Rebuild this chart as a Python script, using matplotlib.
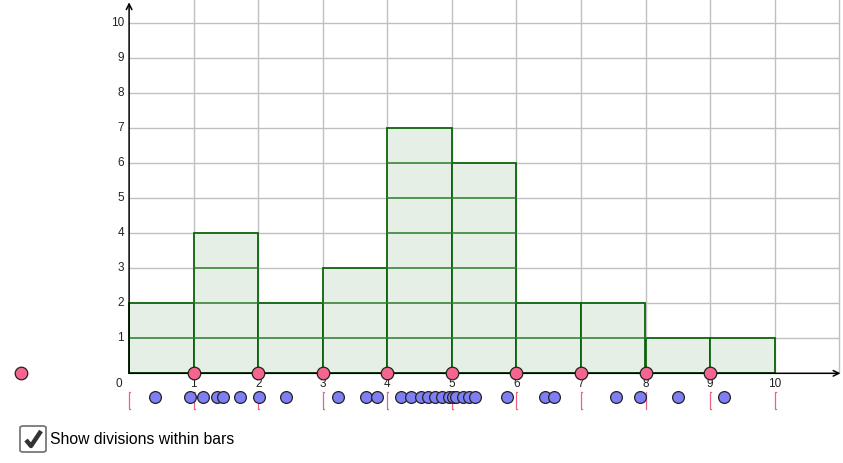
import numpy as np
import matplotlib
matplotlib.use("Agg")
import matplotlib.pyplot as plt
from matplotlib.patches import FancyBboxPatch

plt.rcParams['font.family'] = ['Liberation Sans', 'DejaVu Sans']

# data values (blue dots below the axis)
values = [0.40, 0.95, 1.15, 1.36, 1.46, 1.72, 2.02, 2.43, 3.24, 3.67, 3.84,
          4.21, 4.37, 4.52, 4.63, 4.74, 4.85, 4.96, 5.02, 5.07, 5.18, 5.26, 5.36,
          5.85, 6.44, 6.59, 7.54, 7.92, 8.50, 9.21]
bin_edges = [0, 1, 2, 3, 4, 5, 6, 7, 8, 9, 10]
slider_point = (-1.67, 0)
x_ticks = [1, 2, 3, 4, 5, 6, 7, 8, 9, 10]
y_ticks = [1, 2, 3, 4, 5, 6, 7, 8, 9, 10]

counts, _ = np.histogram(values, bins=bin_edges)

W, H = 843, 463
fig = plt.figure(figsize=(W / 100, H / 100), dpi=100)
ax = fig.add_axes([0, 0, 1, 1])
x0px, y0px, sx, sy = 129.1, 373.3, 64.55, 35.0
ax.set_xlim(-x0px / sx, (W - x0px) / sx)
ax.set_ylim((y0px - H) / sy, y0px / sy)
ax.axis('off')

def px(x, y):
    return (x - x0px) / sx, (y0px - y) / sy

# grid
xmax, ymax = 11, y0px / sy
for gx in range(1, 12):
    ax.plot([gx, gx], [0, ymax], color='#c0c0c0', lw=1, zorder=1)
for gy in y_ticks:
    ax.plot([0, xmax], [gy, gy], color='#c0c0c0', lw=1, zorder=1)

# histogram bars
ax.bar(bin_edges[:-1], counts, width=1, align='edge', facecolor='#e5efe5',
       edgecolor='#0a640a', linewidth=1.3, zorder=2)
for left, c in zip(bin_edges[:-1], counts):
    for k in range(1, c):
        ax.plot([left, left + 1], [k, k], color='#2a7a2a', lw=1.1, zorder=3)

# axes with arrows
ax.annotate('', xy=(11.02, 0), xytext=(0, 0),
            arrowprops=dict(arrowstyle='->', color='black', lw=1.1,
                            shrinkA=0, shrinkB=0), zorder=4)
ax.annotate('', xy=(0, 10.6), xytext=(0, 0),
            arrowprops=dict(arrowstyle='->', color='black', lw=1.1,
                            shrinkA=0, shrinkB=0), zorder=4)

# tick labels
for t in x_ticks:
    ax.text(t, -0.31, str(t), ha='center', va='center', fontsize=8.5, color='#222222')
ax.text(-0.16, -0.31, '0', ha='center', va='center', fontsize=8.5, color='#222222')
for t in y_ticks:
    ax.text(-0.08, t, str(t), ha='right', va='center', fontsize=8.5, color='#222222')

# interval brackets below the axis
for e in bin_edges:
    ax.plot([e + 0.015, e, e, e + 0.015], [-0.52, -0.52, -1.03, -1.03],
            color='#e0405f', lw=0.9, alpha=0.8, zorder=3)

# data dots
ax.scatter(values, [-0.68] * len(values), s=72, facecolor='#7f7ff5',
           edgecolor='#222222', linewidth=0.9, zorder=5)

# class boundary points on the axis
ax.scatter(x_ticks[:-1], [0] * 9, s=82, facecolor='#f46690',
           edgecolor='#222222', linewidth=0.9, zorder=6, clip_on=False)
ax.scatter([slider_point[0]], [slider_point[1]], s=82, facecolor='#f46690',
           edgecolor='#222222', linewidth=0.9, zorder=6)

# checkbox
bx, by = px(20, 452)
bw, bh = 26 / sx, 26 / sy
ax.add_patch(FancyBboxPatch((bx, by), bw, bh,
                            boxstyle='round,pad=0,rounding_size=0.05',
                            facecolor='white', edgecolor='#777777', lw=1.3,
                            zorder=5))
cx, cy = zip(px(26, 440), px(31, 446), px(41, 431))
ax.plot(cx, cy, color='#333333', lw=3.2, solid_capstyle='butt', zorder=6)
tx, ty = px(50, 439)
ax.text(tx, ty, 'Show divisions within bars', ha='left', va='center',
        fontsize=11.3, color='black')

fig.savefig('out.png', dpi=100)
